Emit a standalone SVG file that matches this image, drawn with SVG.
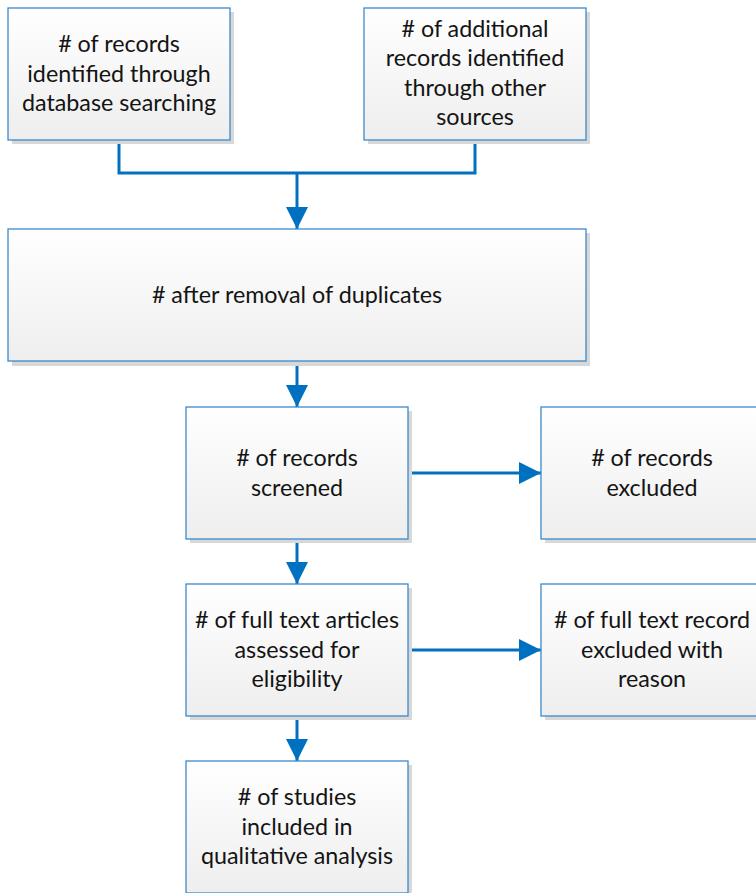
<svg xmlns="http://www.w3.org/2000/svg" width="756" height="893" viewBox="0 0 756 893">
  <defs>
    <linearGradient id="boxFill" x1="0" y1="0" x2="0" y2="1">
      <stop offset="0" stop-color="#FFFFFF"/>
      <stop offset="1" stop-color="#EEEEEE"/>
    </linearGradient>
    <marker id="arrow" viewBox="0 0 22 22" refX="22" refY="11" markerWidth="22" markerHeight="22" markerUnits="userSpaceOnUse" orient="auto">
      <path d="M0,0 L22,11 L0,22 Z" fill="#0070C0"/>
    </marker>
  </defs>
  <style>
    .shadow { fill: #D8D8D8; }
    .box { fill: url(#boxFill); stroke: #3A8AD0; stroke-width: 1.3; }
    .label { font-family: Lato, "Liberation Sans", sans-serif; font-size: 23.3px; fill: #141414; text-anchor: middle; }
    .conn { fill: none; stroke: #0070C0; stroke-width: 3; }
  </style>
  <rect width="756" height="893" fill="#FFFFFF"/>

  <!-- connectors -->
  <g id="connectors">
    <path class="conn" d="M119,140 V173 H475 V140"/>
    <path class="conn" d="M297,173 V229" marker-end="url(#arrow)"/>
    <path class="conn" d="M297,361 V407" marker-end="url(#arrow)"/>
    <path class="conn" d="M408,473 H541" marker-end="url(#arrow)"/>
    <path class="conn" d="M297,539 V584" marker-end="url(#arrow)"/>
    <path class="conn" d="M408,650 H541" marker-end="url(#arrow)"/>
    <path class="conn" d="M297,716 V761" marker-end="url(#arrow)"/>
  </g>

  <g id="db-search">
    <rect class="shadow" x="12" y="12" width="222" height="132"/>
    <rect class="box" x="8" y="8" width="222" height="132"/>
    <text class="label"><tspan x="119" y="52"># of records</tspan><tspan x="119" y="82">identified through</tspan><tspan x="119" y="111">database searching</tspan></text>
  </g>

  <g id="other-sources">
    <rect class="shadow" x="368" y="12" width="222" height="132"/>
    <rect class="box" x="364" y="8" width="222" height="132"/>
    <text class="label"><tspan x="475" y="37"># of additional</tspan><tspan x="475" y="66">records identified</tspan><tspan x="475" y="96">through other</tspan><tspan x="475" y="125">sources</tspan></text>
  </g>

  <g id="deduplicated">
    <rect class="shadow" x="12" y="233" width="578" height="133"/>
    <rect class="box" x="8" y="229" width="578" height="132"/>
    <text class="label" x="297" y="303"># after removal of duplicates</text>
  </g>

  <g id="screened">
    <rect class="shadow" x="190" y="411" width="222" height="132"/>
    <rect class="box" x="186" y="407" width="222" height="132"/>
    <text class="label"><tspan x="297" y="466"># of records</tspan><tspan x="297" y="496">screened</tspan></text>
  </g>

  <g id="excluded">
    <rect class="shadow" x="545" y="411" width="222" height="132"/>
    <rect class="box" x="541" y="407" width="222" height="132"/>
    <text class="label"><tspan x="652" y="466"># of records</tspan><tspan x="652" y="496">excluded</tspan></text>
  </g>

  <g id="full-text">
    <rect class="shadow" x="190" y="588" width="222" height="132"/>
    <rect class="box" x="186" y="584" width="222" height="132"/>
    <text class="label"><tspan x="297" y="628"># of full text articles</tspan><tspan x="297" y="658">assessed for</tspan><tspan x="297" y="687">eligibility</tspan></text>
  </g>

  <g id="full-text-excluded">
    <rect class="shadow" x="545" y="588" width="222" height="132"/>
    <rect class="box" x="541" y="584" width="222" height="132"/>
    <text class="label"><tspan x="652" y="628"># of full text record</tspan><tspan x="652" y="658">excluded with</tspan><tspan x="652" y="687">reason</tspan></text>
  </g>

  <g id="included">
    <rect class="shadow" x="190" y="765" width="222" height="132"/>
    <rect class="box" x="186" y="761" width="222" height="132"/>
    <text class="label"><tspan x="297" y="805"># of studies</tspan><tspan x="297" y="835">included in</tspan><tspan x="297" y="864">qualitative analysis</tspan></text>
  </g>
</svg>
